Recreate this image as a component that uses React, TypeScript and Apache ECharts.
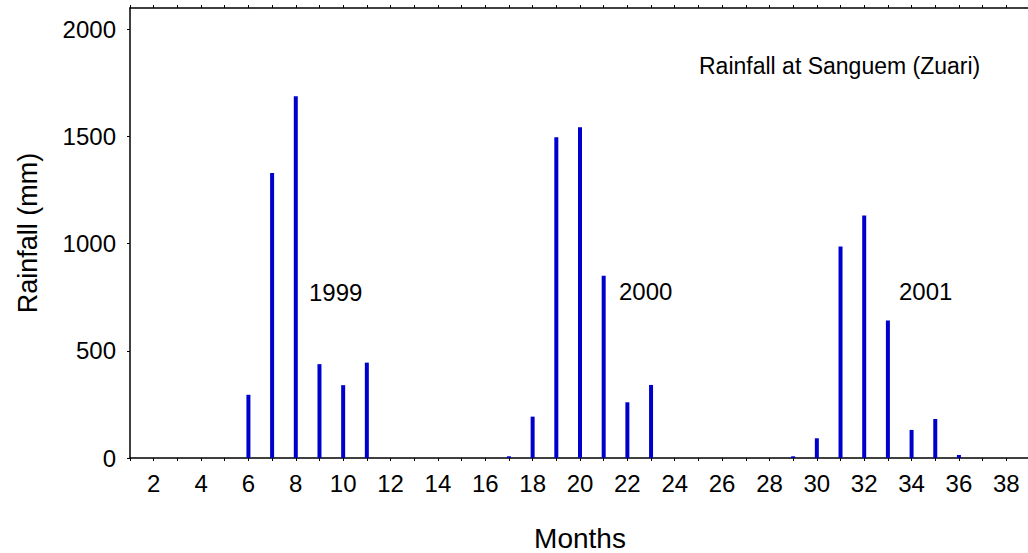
import React, { useEffect, useRef } from "react";
import * as echarts from "echarts";

const months: number[] = [
  1, 2, 3, 4, 5, 6, 7, 8, 9, 10, 11, 12, 13, 14, 15, 16, 17, 18, 19, 20, 21, 22, 23, 24, 25, 26, 27, 28, 29, 30, 31, 32, 33, 34, 35, 36, 37, 38,
];
const rainfall: number[] = [
  0, 0, 0, 0, 0, 295, 1330, 1688, 438, 340, 445, 0, 0, 0, 0, 0, 8, 193, 1497, 1543, 850, 260, 341, 0, 0, 0, 0, 0, 8, 92, 987, 1132, 642, 131, 182, 14, 0, 0,
];
const xTickLabels: number[] = [2, 4, 6, 8, 10, 12, 14, 16, 18, 20, 22, 24, 26, 28, 30, 32, 34, 36, 38];
const yTickLabels: number[] = [0, 500, 1000, 1500, 2000];
const yearLabels: string[] = ["1999", "2000", "2001"];
const chartTitle = "Rainfall at Sanguem (Zuari)";

const FONT = "'Liberation Sans', Arial, Helvetica, sans-serif";

export default function App() {
  const ref = useRef<HTMLDivElement>(null);
  useEffect(() => {
    if (!ref.current) return;
    const chart = echarts.init(ref.current, null, { renderer: "svg" });
    const data = months.map((m, i) => [m, rainfall[i]]);
    const yearPos = [
      { x: 309, y: 292 },
      { x: 619, y: 291 },
      { x: 899, y: 291 },
    ];
    chart.setOption({
      animation: false,
      backgroundColor: "#ffffff",
      textStyle: { fontFamily: FONT },
      grid: { left: 130, top: 8, width: 900, height: 450, containLabel: false, outerBoundsMode: "none" },
      xAxis: [
        {
          type: "value",
          min: 1,
          max: 39,
          interval: 1,
          position: "bottom",
          name: "Months",
          nameLocation: "middle",
          nameGap: 66,
          nameTextStyle: { fontSize: 28, color: "#000", fontFamily: FONT },
          axisLine: { show: true, lineStyle: { color: "#000", width: 1.5 } },
          axisTick: { show: true, length: 3, lineStyle: { color: "#000", width: 1 }, customValues: months },
          axisLabel: {
            fontSize: 24,
            color: "#000",
            margin: 13,
            fontFamily: FONT,
            customValues: xTickLabels,
            formatter: (v: number) => String(v),
          },
          splitLine: { show: false },
        },
        {
          type: "value",
          min: 1,
          max: 39,
          interval: 1,
          position: "top",
          axisLine: { show: true, lineStyle: { color: "#000", width: 1.5 } },
          axisTick: { show: true, length: 3, lineStyle: { color: "#000", width: 1 }, customValues: months },
          axisLabel: { show: false },
          splitLine: { show: false },
        },
      ],
      yAxis: {
        type: "value",
        min: 0,
        max: 2100,
        name: "Rainfall (mm)",
        nameLocation: "middle",
        nameGap: 89,
        nameTextStyle: { fontSize: 27, color: "#000", fontFamily: FONT },
        axisLine: { show: true, lineStyle: { color: "#000", width: 1.5 } },
        axisTick: { show: true, length: 3, lineStyle: { color: "#000", width: 1 }, customValues: yTickLabels },
        axisLabel: {
          fontSize: 24,
          color: "#000",
          margin: 14,
          fontFamily: FONT,
          customValues: yTickLabels,
          formatter: (v: number) => String(v),
        },
        splitLine: { show: false },
      },
      series: [
        {
          type: "bar",
          xAxisIndex: 0,
          data,
          barWidth: 4,
          itemStyle: { color: "#0000cd" },
        },
      ],
      graphic: [
        {
          type: "text",
          x: 699,
          y: 66,
          style: { text: chartTitle, fontSize: 23, fill: "#000", fontFamily: FONT, verticalAlign: "middle" },
        },
        ...yearLabels.map((t, i) => ({
          type: "text",
          x: yearPos[i].x,
          y: yearPos[i].y,
          style: { text: t, fontSize: 24, fill: "#000", fontFamily: FONT, verticalAlign: "middle" },
        })),
      ],
    });
    return () => chart.dispose();
  }, []);
  return <div ref={ref} style={{ position: "fixed", left: 0, top: 0, width: 1028, height: 553 }} />;
}
